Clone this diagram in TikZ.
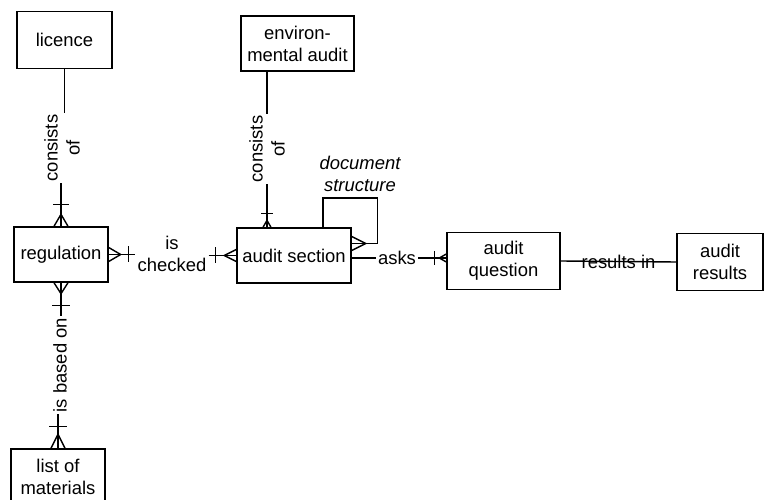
\documentclass[tikz,border=0pt]{standalone}
\usepackage{fontspec}
\setmainfont{Liberation Sans}
\begin{document}
\begin{tikzpicture}[x=1bp,y=-1bp,
  every node/.style={font=\fontsize{18.5}{22}\selectfont, inner sep=0pt},
  entity/.style={draw, line width=1.4bp, align=center},
  link/.style={line width=1.4bp},
  rel/.style={align=center, inner sep=2bp},
]
\useasboundingbox (0,0) rectangle (764,500);

% entities
\node[entity, minimum width=95bp, minimum height=57bp] (lic) at (64.5,40) {licence};
\node[entity, minimum width=113bp, minimum height=55bp] (env) at (297.5,43.5) {environ-\\mental audit};
\node[entity, minimum width=94bp, minimum height=55bp] (reg) at (61,254.5) {regulation};
\node[entity, minimum width=114bp, minimum height=55bp] (as) at (294,255.5) {audit section};
\node[entity, minimum width=113bp, minimum height=57bp] (aq) at (503.5,261) {audit\\question};
\node[entity, minimum width=86bp, minimum height=57bp] (ar) at (720,262) {audit\\results};
\node[entity, minimum width=94bp, minimum height=55bp] (lm) at (58,476.5) {list of\\materials};

% relationship labels
\node[rel, rotate=90] (lc) at (62,148) {consists\\of};
\node[rel, rotate=90] (ec) at (267,149) {consists\\of};
\node[rel] (ic) at (172,254) {is\\checked};
\node[rel] (ak) at (397,258) {asks};
\node[rel, rotate=90] (ib) at (60,365) {is based on};
\node[rel, font=\fontsize{18.5}{22}\selectfont\itshape] (ds) at (360,174) {document\\structure};

% licence -- regulation
\draw[link] (lic.south) -- (lic.south |- lc.east);
\draw[link] (reg.north |- lc.west) -- (reg.north);
\draw[link] (reg.north) ++(-7,0) -- ++(7,-12) -- ++(7,12);
\draw[link] (reg.north) ++(-8,-22) -- ++(16,0);

% regulation -- audit section
\draw[link] (reg.east) -- (reg.east -| ic.west);
\draw[link] (reg.east) ++(0,-7) -- ++(12,7) -- ++(-12,7);
\draw[link] (reg.east) ++(20,-8) -- ++(0,16);
\draw[link] (ic.east |- as.west) -- (as.west);
\draw[link] (as.west) ++(0,-6) -- ++(-12,6) -- ++(12,6);
\draw[link] (as.west) ++(-21,-8) -- ++(0,16);

% environmental audit -- audit section
\draw[link] (env.south -| ec) -- (ec.east);
\draw[link] (ec.west) -- (ec.west |- as.north);
\draw[link] (ec.west |- as.north) ++(-4,0) -- ++(4,-7) -- ++(4,7);
\draw[link] (ec.west |- as.north) ++(-6,-14) -- ++(12,0);

% audit section -- audit section
\coordinate (loop) at (323,198);
\draw[link] ([yshift=12bp]as.east) -- ++(26,0) |- (loop) -- (loop |- as.north);
\draw[link] ([yshift=19bp]as.east) -- ([yshift=12bp,xshift=14bp]as.east) -- ([yshift=5bp]as.east);

% audit section -- audit question
\draw[link] (as.east |- ak) -- (ak.west);
\draw[link] (ak.east) -- (ak -| aq.west);
\draw[link] (ak -| aq.west) ++(0,-4) -- ++(-7,4) -- ++(7,4);
\draw[link] (ak -| aq.west) ++(-12,-7) -- ++(0,14);

% audit question -- audit results
\draw[link] (aq.east) -- node[rel] (ri) {results in} (ar.west);

% regulation -- list of materials
\draw[link] (reg.south) -- (reg.south |- ib.east);
\draw[link] (reg.south) ++(-7,0) -- ++(7,11) -- ++(7,-11);
\draw[link] (reg.south) ++(-9,23) -- ++(18,0);
\draw[link] (ib.west -| lm.north) -- (lm.north);
\draw[link] (lm.north) ++(-7,0) -- ++(7,-14) -- ++(7,14);
\draw[link] (lm.north) ++(-9,-22) -- ++(18,0);
\end{tikzpicture}
\end{document}
